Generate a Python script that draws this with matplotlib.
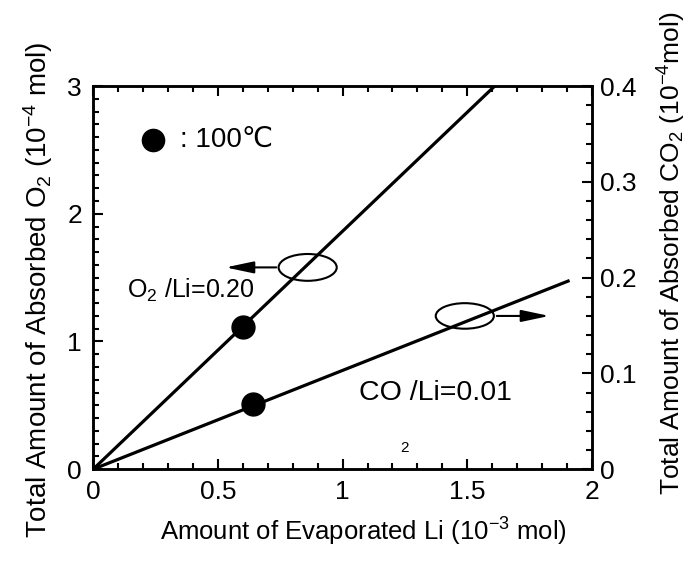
import matplotlib
matplotlib.use("Agg")
import matplotlib.pyplot as plt
from matplotlib.patches import Ellipse
from matplotlib.ticker import MultipleLocator

plt.rcParams['font.family'] = ['Liberation Sans', 'DejaVu Sans']
plt.rcParams['mathtext.fontset'] = 'custom'
plt.rcParams['mathtext.rm'] = 'Liberation Sans'
plt.rcParams['mathtext.it'] = 'Liberation Sans'
plt.rcParams['mathtext.default'] = 'regular'

# Data
o2_line_x = [0, 1.61]
o2_line_y = [0, 3.0]
co2_line_x = [0, 1.91]
co2_line_y = [0, 0.197]
o2_pt_x = [0.60]
o2_pt_y = [1.11]
co2_pt_x = [0.64]
co2_pt_y = [0.068]

x_ticks = [0, 0.5, 1, 1.5, 2]
x_ticklabels = ['0', '0.5', '1', '1.5', '2']
yl_ticks = [0, 1, 2, 3]
yl_ticklabels = ['0', '1', '2', '3']
yr_ticks = [0, 0.1, 0.2, 0.3, 0.4]
yr_ticklabels = ['0', '0.1', '0.2', '0.3', '0.4']

fig = plt.figure(figsize=(6.9, 5.66), dpi=100)
ax = fig.add_axes([0.135, 0.171, 0.723, 0.677])
ax2 = ax.twinx()

lw = 2.3
ax.plot(o2_line_x, o2_line_y, color='black', lw=lw, solid_capstyle='butt')
ax.plot(o2_pt_x, o2_pt_y, 'o', color='black', ms=16.5)
ax2.plot(co2_line_x, co2_line_y, color='black', lw=lw, solid_capstyle='butt')
ax2.plot(co2_pt_x, co2_pt_y, 'o', color='black', ms=16.5)

ax.set_xlim(0, 2)
ax.set_ylim(0, 3)
ax2.set_ylim(0, 0.4)

ax.set_xticks(x_ticks)
ax.set_xticklabels(x_ticklabels)
ax.set_yticks(yl_ticks)
ax.set_yticklabels(yl_ticklabels)
ax2.set_yticks(yr_ticks)
ax2.set_yticklabels(yr_ticklabels)
ax.xaxis.set_minor_locator(MultipleLocator(0.1))
ax.yaxis.set_minor_locator(MultipleLocator(0.1))
ax2.yaxis.set_minor_locator(MultipleLocator(0.02))

for a in (ax, ax2):
    for s in a.spines.values():
        s.set_linewidth(1.8)
ax.tick_params(which='both', direction='in', top=True, labelsize=19, width=1.5)
ax.tick_params(which='major', length=7, pad=8)
ax.tick_params(which='minor', length=4)
ax2.tick_params(which='both', direction='in', labelsize=19, width=1.5)
ax2.tick_params(which='major', length=7, pad=6)
ax2.tick_params(which='minor', length=4)

# Axis labels
fig.text(0.527, 0.060, r'Amount of Evaporated Li (10$^{-3}$ mol)', fontsize=18.5,
         ha='center', va='center')
fig.text(0.055, 0.488, r'Total Amount of Absorbed O$_2$ (10$^{-4}$ mol)', fontsize=20,
         ha='center', va='center', rotation=90)
fig.text(0.974, 0.553, r'Total Amount of Absorbed CO$_2$ (10$^{-4}$mol)', fontsize=19,
         ha='center', va='center', rotation=90)

# Ellipses and arrows
arrow_style = '-|>,head_length=0.85,head_width=0.18'
ax.add_patch(Ellipse((0.86, 1.58), 0.233, 0.21, fill=False, lw=1.5, color='black'))
ax.annotate('', xy=(0.52, 1.58), xytext=(0.745, 1.58),
            arrowprops=dict(arrowstyle=arrow_style, color='black', lw=1.5, mutation_scale=20))
ax.add_patch(Ellipse((1.49, 1.20), 0.233, 0.20, fill=False, lw=1.5, color='black'))
ax.annotate('', xy=(1.84, 1.20), xytext=(1.607, 1.20),
            arrowprops=dict(arrowstyle=arrow_style, color='black', lw=1.5, mutation_scale=20))

# Annotations
ax.plot([0.24], [2.58], 'o', color='black', ms=16)
ax.text(0.35, 2.58, ': 100\u2103', fontsize=20, va='center', ha='left')
ax.text(0.137, 1.40, r'O$_2$ /Li=0.20', fontsize=18, va='center', ha='left')
ax.text(1.064, 0.60, 'CO /Li=0.01', fontsize=20.5, va='center', ha='left')
ax.text(1.25, 0.165, '2', fontsize=11, va='center', ha='center')

fig.savefig('out.png', dpi=100)
